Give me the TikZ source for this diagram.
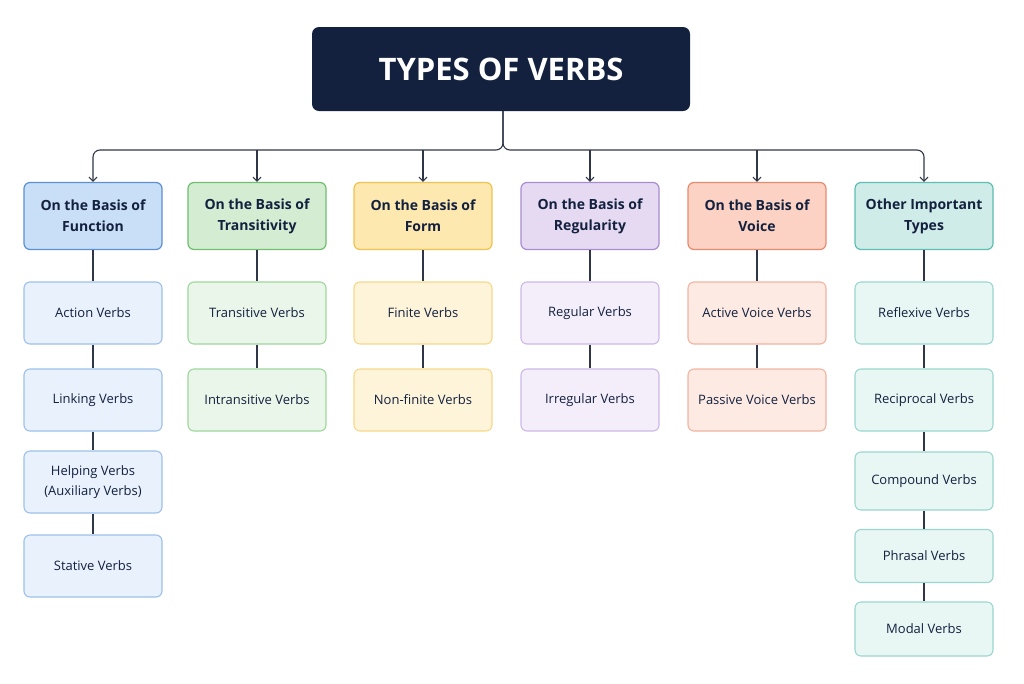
\documentclass[tikz,border=0pt]{standalone}
\usepackage{fontspec}
\setmainfont{Open Sans}
\usetikzlibrary{arrows.meta}
\definecolor{navy}{HTML}{13213F}
\definecolor{lnk}{HTML}{2E3648}
\definecolor{bB}{HTML}{5B8FD6}\definecolor{fB}{HTML}{C9DEF7}\definecolor{cB}{HTML}{E8F1FC}\definecolor{sB}{HTML}{9DC0EC}
\definecolor{bG}{HTML}{6DBF6E}\definecolor{fG}{HTML}{D4EDD2}\definecolor{cG}{HTML}{EBF6EA}\definecolor{sG}{HTML}{9ED69C}
\definecolor{bY}{HTML}{F2C14E}\definecolor{fY}{HTML}{FDE9B0}\definecolor{cY}{HTML}{FEF4DA}\definecolor{sY}{HTML}{F6D889}
\definecolor{bP}{HTML}{A98BCF}\definecolor{fP}{HTML}{E6DAF3}\definecolor{cP}{HTML}{F4EEFA}\definecolor{sP}{HTML}{CDB8E6}
\definecolor{bR}{HTML}{E98A6F}\definecolor{fR}{HTML}{FBD2C4}\definecolor{cR}{HTML}{FDEAE3}\definecolor{sR}{HTML}{F2B3A0}
\definecolor{bT}{HTML}{5DBDB3}\definecolor{fT}{HTML}{CFECE8}\definecolor{cT}{HTML}{E8F6F4}\definecolor{sT}{HTML}{9BD6CF}
\begin{document}
\begin{tikzpicture}[x=1pt,y=-1pt,
 hdr/.style={draw=b#1,fill=f#1,line width=1.2pt,rounded corners=6pt,minimum width=138pt,minimum height=67pt,align=center,font=\fontsize{14}{21}\selectfont\bfseries\color{navy}},
 chd/.style={draw=s#1,fill=c#1,line width=1.1pt,rounded corners=6pt,minimum width=138pt,minimum height=62pt,align=center,font=\fontsize{13}{20}\selectfont\color{navy}},
 lk/.style={draw=lnk,line width=1.1pt},
 ar/.style={lk,-{Straight Barb[length=4pt,width=8pt]}}]
\useasboundingbox (0,0) rectangle (1024,683);
\node[fill=navy,rounded corners=7pt,minimum width=378pt,minimum height=84pt,font=\fontsize{31}{36}\selectfont\bfseries,text=white] (t) at (501,69) {TYPES OF VERBS};
\foreach \n/\x/\c/\l in {h1/93/B/{On the Basis of\\Function},h2/257/G/{On the Basis of\\Transitivity},h3/423/Y/{On the Basis of\\Form},h4/590/P/{On the Basis of\\Regularity},h5/757/R/{On the Basis of\\Voice},h6/924/T/{Other Important\\Types}}
  \node[hdr=\c] (\n) at (\x,216) {\l};
\node[chd=B] (a1) at (93,313) {Action Verbs};
\node[chd=B] (a2) at (93,400) {Linking Verbs};
\node[chd=B] (a3) at (93,482) {Helping Verbs\\(Auxiliary Verbs)};
\node[chd=B] (a4) at (93,566) {Stative Verbs};
\node[chd=G] (b1) at (257,313) {Transitive Verbs};
\node[chd=G] (b2) at (257,400) {Intransitive Verbs};
\node[chd=Y] (c1) at (423,313) {Finite Verbs};
\node[chd=Y] (c2) at (423,400) {Non-finite Verbs};
\node[chd=P] (d1) at (590,313) {Regular Verbs};
\node[chd=P] (d2) at (590,400) {Irregular Verbs};
\node[chd=R] (e1) at (757,313) {Active Voice Verbs};
\node[chd=R] (e2) at (757,400) {Passive Voice Verbs};
\node[chd=T] (f1) at (924,313) {Reflexive Verbs};
\node[chd=T] (f2) at (924,400) {Reciprocal Verbs};
\node[chd=T,minimum height=58pt] (f3) at (924,481) {Compound Verbs};
\node[chd=T,minimum height=53pt] (f4) at (924,556) {Phrasal Verbs};
\node[chd=T,minimum height=54pt] (f5) at (924,629) {Modal Verbs};
% bus
\coordinate (s) at (503,111);
\draw[ar,rounded corners=7pt] (s) |- (93,150) -- (h1.north);
\draw[ar,rounded corners=7pt] (s) |- (924,150) -- (h6.north);
\foreach \n/\x in {h2/257,h3/423,h4/590,h5/757} \draw[ar] (\x,150) -- (\n.north);
\foreach \a/\b in {h1/a1,a1/a2,a2/a3,a3/a4,h2/b1,b1/b2,h3/c1,c1/c2,h4/d1,d1/d2,h5/e1,e1/e2,h6/f1,f1/f2,f2/f3,f3/f4,f4/f5}
  \draw[lk] (\a.south) -- (\b.north);
\end{tikzpicture}
\end{document}
